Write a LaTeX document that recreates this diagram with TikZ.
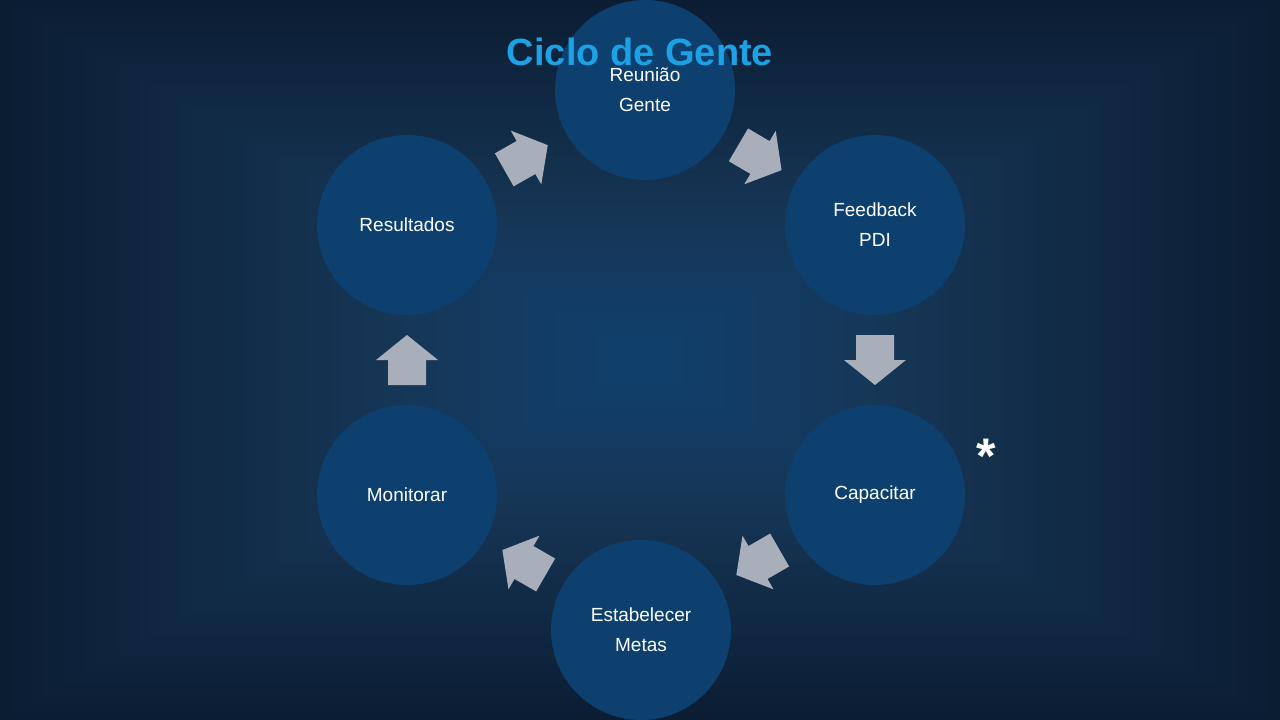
\documentclass[tikz,border=0pt]{standalone}
\usepackage{fontspec}
\setmainfont{Liberation Sans}
\usetikzlibrary{calc}
\definecolor{bgA}{RGB}{11,29,51}
\definecolor{bgB}{RGB}{22,54,86}
\definecolor{bgC}{RGB}{16,64,110}
\definecolor{circfill}{RGB}{13,63,111}
\definecolor{arrowgray}{RGB}{168,174,186}
\definecolor{titleblue}{RGB}{27,161,228}
\tikzset{
  circ/.style={circle, minimum size=180pt, inner sep=0pt, fill=circfill, text=white,
    align=center, font=\fontsize{19}{30}\selectfont},
  barrow/.pic={\fill[arrowgray] (-25,-19) -- (0,-19) -- (0,-31) -- (25,0) -- (0,31) -- (0,19) -- (-25,19) -- cycle;},
}
\begin{document}
\begin{tikzpicture}[x=1pt,y=-1pt]
\useasboundingbox (0,0) rectangle (1280,720);
% background rectangular gradient
\foreach \i in {0,...,60}{
  \pgfmathsetmacro{\d}{1-\i/60}
  \ifdim\d pt>0.4pt
    \pgfmathsetmacro{\p}{(1-\d)/0.6*100}
    \fill[bgB!\p!bgA] ({640-640*\d},{360-360*\d}) rectangle ({640+640*\d},{360+360*\d});
  \else
    \pgfmathsetmacro{\p}{(0.4-\d)/0.4*100}
    \fill[bgC!\p!bgB] ({640-640*\d},{360-360*\d}) rectangle ({640+640*\d},{360+360*\d});
  \fi
}
% circles
\node[circ] (reu) at (645,90) {Reunião\\Gente};
\node[circ] (fb) at (875,225) {Feedback\\PDI};
\node[circ] (cap) at (875,495) {Capacitar};
\node[circ] (est) at (641,630) {Estabelecer\\Metas};
\node[circ] (mon) at (407,495) {Monitorar};
\node[circ] (res) at (407,225) {Resultados};
% arrows
\foreach \a/\b in {reu/fb, fb/cap, cap/est, est/mon, mon/res, res/reu}{
  \path let \p1=(\a), \p2=(\b), \n1={atan2(\y2-\y1,\x2-\x1)} in
    ($(\a)!0.5!(\b)$) pic[rotate=\n1]{barrow};
}
% title
\node[anchor=base, text=titleblue, font=\fontsize{38}{40}\selectfont\bfseries] (title) at (640,65) {Ciclo de Gente};
% asterisk
\node[anchor=base, text=white, font=\fontsize{50}{50}\selectfont\bfseries, inner sep=0pt] (ast) at (986,473) {*};
\end{tikzpicture}
\end{document}
